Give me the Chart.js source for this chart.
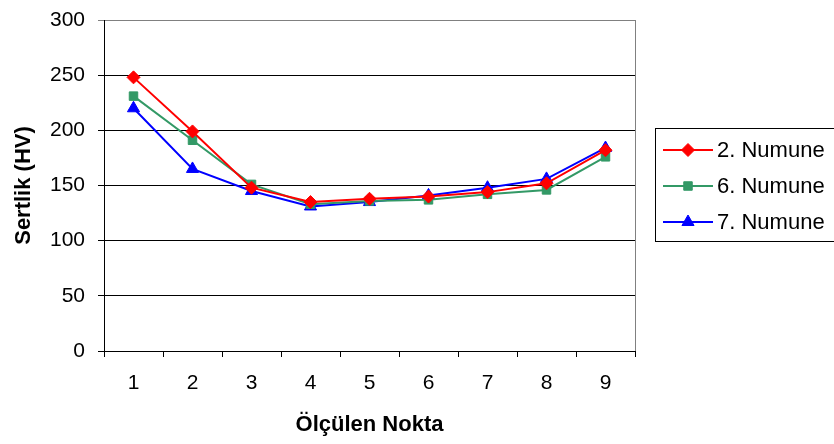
<!DOCTYPE html>
<html>
<head>
<meta charset="utf-8">
<script src="https://cdn.jsdelivr.net/npm/chart.js@4/dist/chart.umd.min.js"></script>
<style>
  html, body { margin: 0; padding: 0; background: #fff; }
  #wrap { width: 834px; height: 444px; }
</style>
</head>
<body>
<div id="wrap"><canvas id="c" width="834" height="444"></canvas></div>
<script>
// Measurement points along the sample
const points = ['1', '2', '3', '4', '5', '6', '7', '8', '9'];

// Hardness values (HV) per specimen
const numune2 = [248, 199, 148, 135, 138, 140, 144, 152, 182];
const numune6 = [231, 191, 151, 133, 136, 137, 142, 146, 176];
const numune7 = [220, 165, 145, 131, 135, 141, 148, 156, 184];

const seriesNames = ['2. Numune', '6. Numune', '7. Numune'];
const yTicks = [0, 50, 100, 150, 200, 250, 300];

const FONT = '"Liberation Sans", Arial, sans-serif';
Chart.defaults.font.family = FONT;
Chart.defaults.color = '#000';

// Frame line on the right edge of the plot area
const frame = {
  id: 'frame',
  afterDatasetsDraw(chart) {
    const { ctx, chartArea: a } = chart;
    ctx.save();
    ctx.strokeStyle = '#808080';
    ctx.lineWidth = 1;
    ctx.beginPath();
    ctx.moveTo(Math.round(a.right) + 0.5, a.top);
    ctx.lineTo(Math.round(a.right) + 0.5, a.bottom);
    ctx.stroke();
    ctx.restore();
  }
};

// Boxed legend to the right of the plot
const boxLegend = {
  id: 'boxLegend',
  afterDraw(chart) {
    const { ctx } = chart;
    const x0 = 655, y0 = 128, h = 113;
    ctx.save();
    ctx.strokeStyle = '#000';
    ctx.lineWidth = 1;
    ctx.strokeRect(x0 + 0.5, y0 + 0.5, 300, h);
    chart.data.datasets.forEach((ds, i) => {
      const y = 150 + i * 36;
      ctx.strokeStyle = ds.borderColor;
      ctx.lineWidth = 2;
      ctx.beginPath();
      ctx.moveTo(663, y);
      ctx.lineTo(713, y);
      ctx.stroke();
      ctx.fillStyle = ds.pointBackgroundColor;
      ctx.strokeStyle = ds.pointBorderColor;
      ctx.lineWidth = 1;
      Chart.helpers.drawPoint(ctx, {
        pointStyle: ds.pointStyle,
        radius: ds.pointRadius,
        borderWidth: 1
      }, 688, y);
      ctx.fillStyle = '#000';
      ctx.font = '22px ' + FONT;
      ctx.textBaseline = 'middle';
      ctx.textAlign = 'left';
      ctx.fillText(ds.label, 717, y + 1);
    });
    ctx.restore();
  }
};

function series(label, data, color, style, r) {
  return {
    label, data,
    borderColor: color,
    backgroundColor: color,
    pointBackgroundColor: color,
    pointBorderColor: color,
    pointStyle: style,
    pointRadius: r,
    pointHoverRadius: r,
    pointBorderWidth: 1,
    borderWidth: 2,
    tension: 0
  };
}

new Chart(document.getElementById('c'), {
  type: 'line',
  data: {
    labels: points,
    datasets: [
      series(seriesNames[0], numune2, '#FF0000', 'rectRot', 6.5),
      series(seriesNames[1], numune6, '#339966', 'rect', 6),
      series(seriesNames[2], numune7, '#0000FF', 'triangle', 7)
    ]
  },
  options: {
    responsive: false,
    animation: false,
    events: [],
    layout: { padding: { top: 20, right: 199, bottom: 0, left: 0 } },
    plugins: { legend: { display: false }, tooltip: { enabled: false } },
    scales: {
      x: {
        type: 'category',
        offset: true,
        grid: { offset: true, drawOnChartArea: false, drawTicks: true, tickLength: 6, color: '#000' },
        border: { color: '#000', width: 1 },
        ticks: { font: { size: 21 }, color: '#000', padding: 14, maxRotation: 0 },
        title: { display: true, text: 'Ölçülen Nokta', font: { size: 22, weight: 'bold' }, padding: { top: 0, bottom: 6 } },
        afterFit(s) { s.height = 93; }
      },
      y: {
        min: 0, max: 300,
        afterBuildTicks(s) { s.ticks = yTicks.map(v => ({ value: v })); },
        afterUpdate(s) { s.paddingTop = 0; },
        grid: {
          color: ctx => (ctx.tick && ctx.tick.value === 300 ? '#808080' : '#000'),
          tickLength: 6,
          lineWidth: 1
        },
        border: { color: '#000', width: 1 },
        ticks: { font: { size: 21 }, color: '#000', padding: 13 },
        title: { display: true, text: 'Sertlik (HV)', font: { size: 22, weight: 'bold' }, padding: { top: 11, bottom: 0 } },
        afterFit(s) { s.width = 104; }
      }
    }
  },
  plugins: [frame, boxLegend]
});
</script>
</body>
</html>
